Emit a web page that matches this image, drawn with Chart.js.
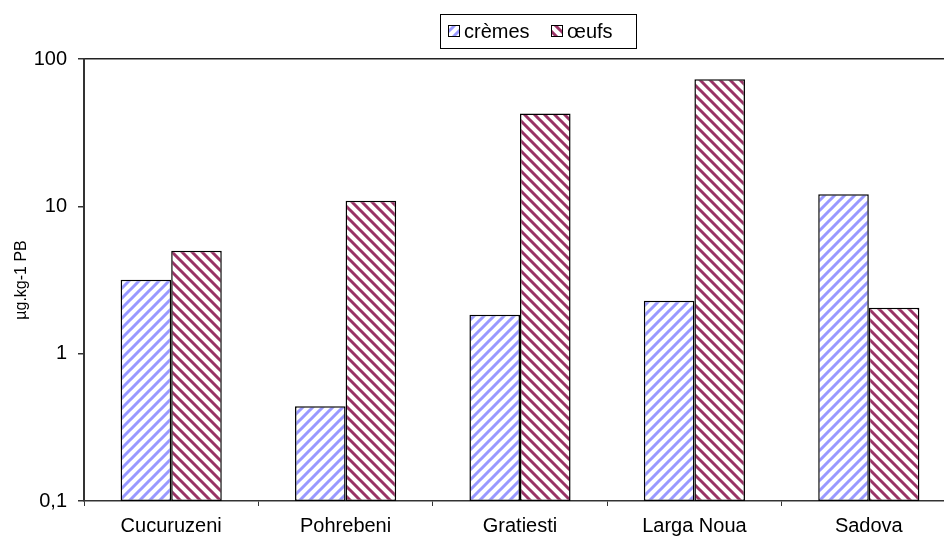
<!DOCTYPE html>
<html>
<head>
<meta charset="utf-8">
<script src="https://cdn.jsdelivr.net/npm/chart.js@4/dist/chart.umd.min.js"></script>
<style>
  html, body { margin: 0; padding: 0; background: #fff; overflow: hidden; }
  #wrap { width: 960px; height: 542px; position: relative; }
</style>
</head>
<body>
<div id="wrap"><canvas id="graphe"></canvas></div>
<script>
// donnees
const sites = ['Cucuruzeni', 'Pohrebeni', 'Gratiesti', 'Larga Noua', 'Sadova'];
const cremes = [3.17, 0.44, 1.84, 2.29, 12.1];
const oeufs = [5.0, 10.9, 42.6, 72.8, 2.05];
const yTicks = [0.1, 1, 10, 100];
const yLabels = ['0,1', '1', '10', '100'];

const police = '"Liberation Sans", Arial, sans-serif';

// hachures
function hachure(couleur, sens) {
  const c = document.createElement('canvas');
  c.width = 10; c.height = 10;
  const g = c.getContext('2d');
  g.fillStyle = '#fff';
  g.fillRect(0, 0, 10, 10);
  g.strokeStyle = couleur;
  g.lineWidth = 3;
  g.beginPath();
  if (sens == '/') {
    g.moveTo(-2, 12); g.lineTo(12, -2);
    g.moveTo(-7, 7); g.lineTo(3, -3);
    g.moveTo(7, 13); g.lineTo(13, 7);
  } else {
    g.moveTo(-2, -2); g.lineTo(12, 12);
    g.moveTo(-3, 7); g.lineTo(3, 13);
    g.moveTo(7, -3); g.lineTo(13, 3);
  }
  g.stroke();
  return g.createPattern(c, 'repeat');
}

const ctx = document.getElementById('graphe').getContext('2d');
const motifBleu = hachure('#9999ff', '/');
const motifRouge = hachure('#993366', '\\');

// legende encadree comme dans excel
const legendeBoite = {
  id: 'legendeBoite',
  afterDraw(chart) {
    const g = chart.ctx;
    const posX = [448, 551];
    g.save();
    g.fillStyle = '#fff';
    g.fillRect(440.5, 14.5, 196, 34);
    g.strokeStyle = '#000';
    g.lineWidth = 1;
    g.strokeRect(440.5, 14.5, 196, 34);
    g.font = '20px ' + police;
    g.textBaseline = 'middle';
    chart.data.datasets.forEach(function (ds, i) {
      const x = posX[i];
      g.fillStyle = ds.backgroundColor;
      g.fillRect(x, 25, 11, 11);
      g.strokeStyle = '#000';
      g.strokeRect(x + 0.5, 25.5, 11, 11);
      g.fillStyle = '#000';
      g.fillText(ds.label, x + 16, 32);
    });
    g.restore();
  }
};

new Chart(ctx, {
  type: 'bar',
  data: {
    labels: sites,
    datasets: [
      {
        label: 'crèmes',
        data: cremes,
        backgroundColor: motifBleu,
        borderColor: '#000',
        borderWidth: 1.5,
        borderSkipped: false
      },
      {
        label: 'œufs',
        data: oeufs,
        backgroundColor: motifRouge,
        borderColor: '#000',
        borderWidth: 1.5,
        borderSkipped: false
      }
    ]
  },
  options: {
    responsive: true,
    maintainAspectRatio: false,
    animation: false,
    layout: { padding: { top: 59, right: 4, left: 0, bottom: 0 } },
    datasets: { bar: { categoryPercentage: 0.58, barPercentage: 1.0 } },
    plugins: {
      legend: { display: false },
      tooltip: { enabled: false }
    },
    scales: {
      x: {
        offset: true,
        grid: {
          offset: true,
          drawOnChartArea: false,
          tickLength: 5,
          tickColor: '#333'
        },
        border: { color: '#333', width: 1.5 },
        ticks: {
          color: '#000',
          padding: 8,
          maxRotation: 0,
          font: { family: police, size: 20 }
        },
        afterFit: function (scale) { scale.height = 41; }
      },
      y: {
        type: 'logarithmic',
        min: 0.1,
        max: 100,
        afterBuildTicks: function (scale) {
          scale.ticks = yTicks.map(function (v) { return { value: v }; });
        },
        grid: {
          color: function (c) { return c.tick && c.tick.value == 100 ? '#222' : 'rgba(0,0,0,0)'; },
          tickColor: '#333',
          tickLength: 6,
          lineWidth: 1.5
        },
        border: { color: '#333', width: 2 },
        ticks: {
          color: '#000',
          padding: 11,
          font: { family: police, size: 20 },
          callback: function (v) {
            const i = yTicks.indexOf(v);
            return i >= 0 ? yLabels[i] : '';
          }
        },
        title: {
          display: true,
          text: 'µg.kg-1 PB',
          color: '#000',
          font: { family: police, size: 16 },
          padding: { top: 12, bottom: 0 }
        },
        afterFit: function (scale) { scale.width = 84; }
      }
    }
  },
  plugins: [legendeBoite]
});
</script>
</body>
</html>
